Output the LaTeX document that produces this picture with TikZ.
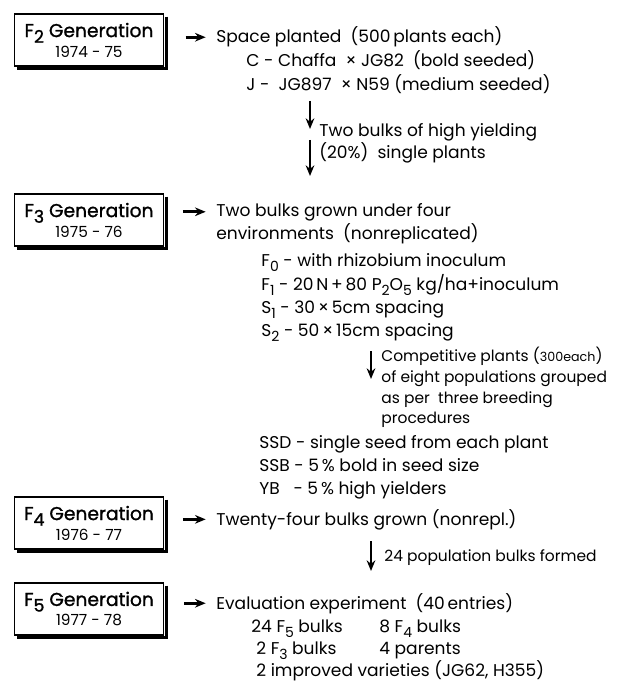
\documentclass[tikz,border=0pt]{standalone}
\usepackage{fontspec}
\setmainfont{Poppins}
\newfontfamily\genfont[FakeBold=1.2]{Poppins}
\usetikzlibrary{arrows.meta,positioning}
\newcommand{\lo}[1]{\raisebox{-0.55ex}{\fontsize{10.5}{10.5}\selectfont #1}}
\newcommand{\tlo}[1]{\raisebox{-0.55ex}{\fontsize{13}{13}\selectfont #1}}
\newcommand{\yr}[1]{{\rmfamily\fontsize{11.5}{13}\selectfont #1}}

\begin{document}
\begin{tikzpicture}[x=0.75pt,y=-0.75pt,>={Stealth[length=8pt,width=6.5pt]},line width=2.1pt]
  \tikzstyle{gen}=[draw,line width=0.9pt,fill=white,minimum width=112pt,minimum height=39pt,inner sep=0pt,align=center,
    font=\genfont\fontsize{14}{16}\selectfont]
  \tikzstyle{shade}=[line width=2.2pt,line cap=butt]
  \tikzstyle{txt}=[anchor=base west,inner sep=0pt,font=\fontsize{12.8}{14}\selectfont]
  \tikzstyle{note}=[anchor=base west,inner sep=0pt,font=\fontsize{11.6}{13}\selectfont]
  \useasboundingbox (0,0) rectangle (622,681);

  % F2
  \node[gen] (g2) at (89,40) {F\tlo{2} Generation\\[-1pt]\yr{1974 - 75}};
  \node[txt] (t2a) at (215,43) {Space planted\ \ (500\,plants each)};
  \node[txt] (t2b) at (245,67) {C - Chaffa\ \ × JG82\ \ (bold seeded)};
  \node[txt] (t2c) at (245,91) {J -\ \ JG897\ \ × N59 (medium seeded)};
  \node[txt] (b2a) at (318,137) {Two bulks of high yielding};
  \node[txt] (b2b) at (318,158) {(20\%)\ \ single plants};
  \coordinate (d1) at (310,101);
  \coordinate (d2) at (310,129);
  \coordinate (d3) at (310,140);
  \coordinate (d4) at (310,176);
  \path (g2.east |- t2a.west) edge[->,shorten <=16pt,shorten >=7pt] (t2a.west);
  \draw[->] (d1) -- (d2);
  \draw[->] (d3) -- (d4);

  % F3
  \node[gen] (g3) at (89,220) {F\tlo{3} Generation\\[-1pt]\yr{1975 - 76}};
  \node[txt] (t3a) at (215,216) {Two bulks grown under four};
  \node[txt] (t3b) at (215,239) {environments\ \ (nonreplicated)};
  \node[txt] (e0) at (260,266) {F\lo{0} - with rhizobium inoculum};
  \node[txt] (e1) at (260,290) {F\lo{1} - 20\,N\,+\,80 P\lo{2}O\lo{5} kg/ha+inoculum};
  \node[txt] (e2) at (260,313) {S\lo{1} - 30\,×\,5cm spacing};
  \node[txt] (e3) at (260,336) {S\lo{2} - 50\,×\,15cm spacing};
  \node[note] (c1) at (380,361) {Competitive plants ({\fontsize{9.5}{10}\selectfont 300each})};
  \node[note] (c2) at (380,382) {of eight populations grouped};
  \node[note] (c3) at (380,403) {as per\ \ three breeding};
  \node[note] (c4) at (380,423) {procedures};
  \coordinate (d5) at (371,351);
  \coordinate (d6) at (371,379);
  \path (g3.east |- t3a.west) edge[->,shorten <=14pt,shorten >=7pt] (t3a.west);
  \draw[->] (d5) -- (d6);
  \node[txt] (p1) at (258,448) {SSD - single seed from each plant};
  \node[txt] (p2) at (258,471) {SSB - 5\,\% bold in seed size};
  \node[txt] (p3) at (258,494) {YB\ \ \ - 5\,\% high yielders};

  % F4
  \node[gen] (g4) at (89,523) {F\tlo{4} Generation\\[-1pt]\yr{1976 - 77}};
  \node[txt] (t4) at (215,525) {Twenty-four bulks grown (nonrepl.)};
  \node[note] (n4) at (383,561) {24 population bulks formed};
  \coordinate (d7) at (371,541);
  \coordinate (d8) at (371,571);
  \path (g4.east |- t4.west) edge[->,shorten <=14pt,shorten >=7pt] (t4.west);
  \draw[->] (d7) -- (d8);

  % F5
  \node[gen] (g5) at (89,609) {F\tlo{5} Generation\\[-1pt]\yr{1977 - 78}};
  \node[txt] (t5a) at (215,609) {Evaluation experiment\ \ (40\,entries)};
  \node[txt] (t5b) at (250,632) {24 F\lo{5} bulks};
  \node[txt] (t5c) at (378,632) {8 F\lo{4} bulks};
  \node[txt] (t5d) at (255,654) {2 F\lo{3} bulks};
  \node[txt] (t5e) at (378,654) {4 parents};
  \node[txt] (t5f) at (255,676) {2 improved varieties (JG62, H355)};
  \path (g5.east |- t5a.west) edge[->,shorten <=15pt,shorten >=7pt] (t5a.west);

  % shadows of the boxes
  \foreach \g in {g2,g3,g4,g5}
    \draw[shade] ([xshift=1.5pt,yshift=-2.5pt]\g.north east) -- ([xshift=1.5pt,yshift=-1.5pt]\g.south east)
      -- ([xshift=2.5pt,yshift=-1.5pt]\g.south west);
\end{tikzpicture}
\end{document}
